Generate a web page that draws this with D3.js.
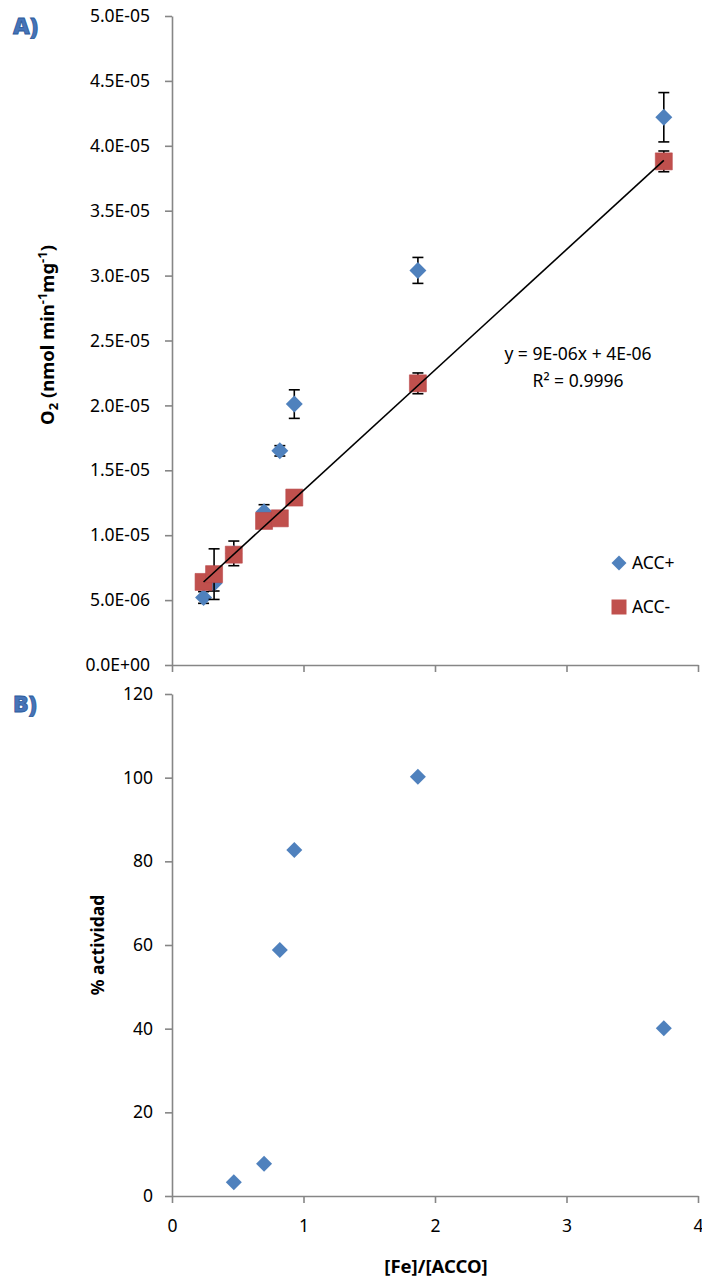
<!DOCTYPE html>
<html>
<head>
<meta charset="utf-8">
<script src="https://cdn.jsdelivr.net/npm/d3@7"></script>
<style>
  body { margin: 0; background: #fff; }
  text { font-family: "Noto Sans", "Open Sans", sans-serif; fill: #000; }
</style>
</head>
<body>
<script>
// data
var feRatio = [0.24, 0.32, 0.47, 0.70, 0.82, 0.93, 1.87, 3.74];
var accPlus = [5.2e-6, 6.3e-6, 8.6e-6, 11.8e-6, 16.5e-6, 20.1e-6, 30.4e-6, 42.2e-6];
var accPlusErr = [0.45e-6, 0.6e-6, 0.95e-6, 0.55e-6, 0.4e-6, 1.1e-6, 1.0e-6, 1.9e-6];
var accMinus = [6.4e-6, 7.0e-6, 8.5e-6, 11.1e-6, 11.3e-6, 12.9e-6, 21.7e-6, 38.8e-6];
var accMinusErr = [0.3e-6, 1.95e-6, 0.3e-6, 0.3e-6, 0.3e-6, 0.3e-6, 0.8e-6, 0.8e-6];

var feRatioB = [0.47, 0.70, 0.82, 0.93, 1.87, 3.74];
var actividad = [3.3, 7.7, 58.8, 82.7, 100.2, 40.1];

var xTicks = [0, 1, 2, 3, 4];
var yTicksA = [0, 5e-6, 1e-5, 1.5e-5, 2e-5, 2.5e-5, 3e-5, 3.5e-5, 4e-5, 4.5e-5, 5e-5];
var yLabelsA = ["0.0E+00", "5.0E-06", "1.0E-05", "1.5E-05", "2.0E-05", "2.5E-05",
                "3.0E-05", "3.5E-05", "4.0E-05", "4.5E-05", "5.0E-05"];
var yTicksB = [0, 20, 40, 60, 80, 100, 120];

var width = 702, height = 1279;
var blue = "#4F81BD", red = "#C0504D", axisColor = "#868686";
var fs = "17.5px";

var svg = d3.select("body").append("svg")
    .attr("width", width)
    .attr("height", height);

var x = d3.scaleLinear().domain([0, 4]).range([172, 698]);
var yA = d3.scaleLinear().domain([0, 5e-5]).range([665, 16]);
var yB = d3.scaleLinear().domain([0, 120]).range([1196, 694]);

function styleAxis(g) {
  g.select(".domain").attr("stroke", axisColor).attr("stroke-width", 1.6);
  g.selectAll(".tick line").attr("stroke", axisColor).attr("stroke-width", 1.6);
  g.selectAll(".tick text").style("font-size", fs);
}

// ---------- panel A ----------
svg.append("g")
    .attr("transform", "translate(0," + yA(0) + ")")
    .call(d3.axisBottom(x).tickValues(xTicks).tickSize(7).tickSizeOuter(0).tickFormat(""))
    .call(styleAxis);

svg.append("g")
    .attr("transform", "translate(" + x(0) + ",0)")
    .call(d3.axisLeft(yA).tickValues(yTicksA).tickSize(7).tickSizeOuter(0)
      .tickFormat(function(d, i) { return yLabelsA[i]; }))
    .call(styleAxis)
    .call(function(g) { g.selectAll(".tick text").attr("x", -22); });

var diamond = d3.symbol().type(d3.symbolSquare).size(144);
var square = d3.symbol().type(d3.symbolSquare).size(289);

function errorBars(vals, errs) {
  var g = svg.append("g").attr("stroke", "#000").attr("stroke-width", 1.6);
  feRatio.forEach(function(fx, i) {
    var cx = x(fx), top = yA(vals[i] + errs[i]), bot = yA(vals[i] - errs[i]);
    g.append("line").attr("x1", cx).attr("x2", cx).attr("y1", top).attr("y2", bot);
    g.append("line").attr("x1", cx - 5.5).attr("x2", cx + 5.5).attr("y1", top).attr("y2", top);
    g.append("line").attr("x1", cx - 5.5).attr("x2", cx + 5.5).attr("y1", bot).attr("y2", bot);
  });
}

errorBars(accPlus, accPlusErr);
svg.append("g").selectAll("path").data(accPlus).join("path")
    .attr("d", diamond)
    .attr("fill", blue)
    .attr("transform", function(d, i) { return "translate(" + x(feRatio[i]) + "," + yA(d) + ") rotate(45)"; });

errorBars(accMinus, accMinusErr);
svg.append("g").selectAll("path").data(accMinus).join("path")
    .attr("d", square)
    .attr("fill", red)
    .attr("stroke", "#b8474a")
    .attr("stroke-width", 0.6)
    .attr("transform", function(d, i) { return "translate(" + x(feRatio[i]) + "," + yA(d) + ")"; });

// linear trend line of ACC-
var mx = d3.mean(feRatio), my = d3.mean(accMinus);
var sxy = d3.sum(feRatio, function(d, i) { return (d - mx) * (accMinus[i] - my); });
var sxx = d3.sum(feRatio, function(d) { return (d - mx) * (d - mx); });
var slope = sxy / sxx, intercept = my - slope * mx;
var xExt = d3.extent(feRatio);
svg.append("line")
    .attr("x1", x(xExt[0])).attr("y1", yA(intercept + slope * xExt[0]))
    .attr("x2", x(xExt[1])).attr("y2", yA(intercept + slope * xExt[1]))
    .attr("stroke", "#000").attr("stroke-width", 1.6);

svg.append("text").attr("x", 578).attr("y", 360).attr("text-anchor", "middle")
    .style("font-size", fs).text("y = 9E-06x + 4E-06");
svg.append("text").attr("x", 578).attr("y", 387).attr("text-anchor", "middle")
    .style("font-size", fs).text("R\u00B2 = 0.9996");

// legend
svg.append("path").attr("d", d3.symbol().type(d3.symbolSquare).size(112))
    .attr("fill", blue).attr("transform", "translate(619,563) rotate(45)");
svg.append("text").attr("x", 632).attr("y", 569).style("font-size", fs).text("ACC+");
svg.append("path").attr("d", d3.symbol().type(d3.symbolSquare).size(225))
    .attr("fill", red).attr("transform", "translate(619,607)");
svg.append("text").attr("x", 632).attr("y", 613).style("font-size", fs).text("ACC-");

// y title A
var tA = svg.append("text")
    .attr("transform", "translate(54,335) rotate(-90)")
    .attr("text-anchor", "middle")
    .style("font-size", "18.5px").style("font-weight", "bold");
tA.append("tspan").text("O");
tA.append("tspan").attr("dy", 4).style("font-size", "13px").text("2");
tA.append("tspan").attr("dy", -4).text(" (nmol min");
tA.append("tspan").attr("dy", -7).style("font-size", "13px").text("-1");
tA.append("tspan").attr("dy", 7).text("mg");
tA.append("tspan").attr("dy", -7).style("font-size", "13px").text("-1");
tA.append("tspan").attr("dy", 7).text(")");

// ---------- panel B ----------
svg.append("g")
    .attr("transform", "translate(0," + yB(0) + ")")
    .call(d3.axisBottom(x).tickValues(xTicks).tickSize(7).tickSizeOuter(0).tickFormat(d3.format("d")))
    .call(styleAxis)
    .call(function(g) { g.selectAll(".tick text").attr("y", 24); });

svg.append("g")
    .attr("transform", "translate(" + x(0) + ",0)")
    .call(d3.axisLeft(yB).tickValues(yTicksB).tickSize(7).tickSizeOuter(0))
    .call(styleAxis)
    .call(function(g) { g.selectAll(".tick text").attr("x", -19); });

svg.append("g").selectAll("path").data(actividad).join("path")
    .attr("d", d3.symbol().type(d3.symbolSquare).size(128))
    .attr("fill", blue)
    .attr("transform", function(d, i) { return "translate(" + x(feRatioB[i]) + "," + yB(d) + ") rotate(45)"; });

svg.append("text")
    .attr("transform", "translate(104,945) rotate(-90)")
    .attr("text-anchor", "middle")
    .style("font-size", "17.5px").style("font-weight", "bold")
    .text("% actividad");

svg.append("text")
    .attr("x", 436).attr("y", 1273)
    .attr("text-anchor", "middle")
    .style("font-size", "18.5px").style("font-weight", "bold")
    .text("[Fe]/[ACCO]");

// panel letters
[["A)", 34], ["B)", 712]].forEach(function(p) {
  svg.append("text").attr("x", 13).attr("y", p[1])
      .style("font-size", "23px").style("font-weight", "900")
      .style("fill", "#4674B8").style("stroke", "#2C5A9A").style("stroke-width", "0.8px")
      .text(p[0]);
});
</script>
</body>
</html>
